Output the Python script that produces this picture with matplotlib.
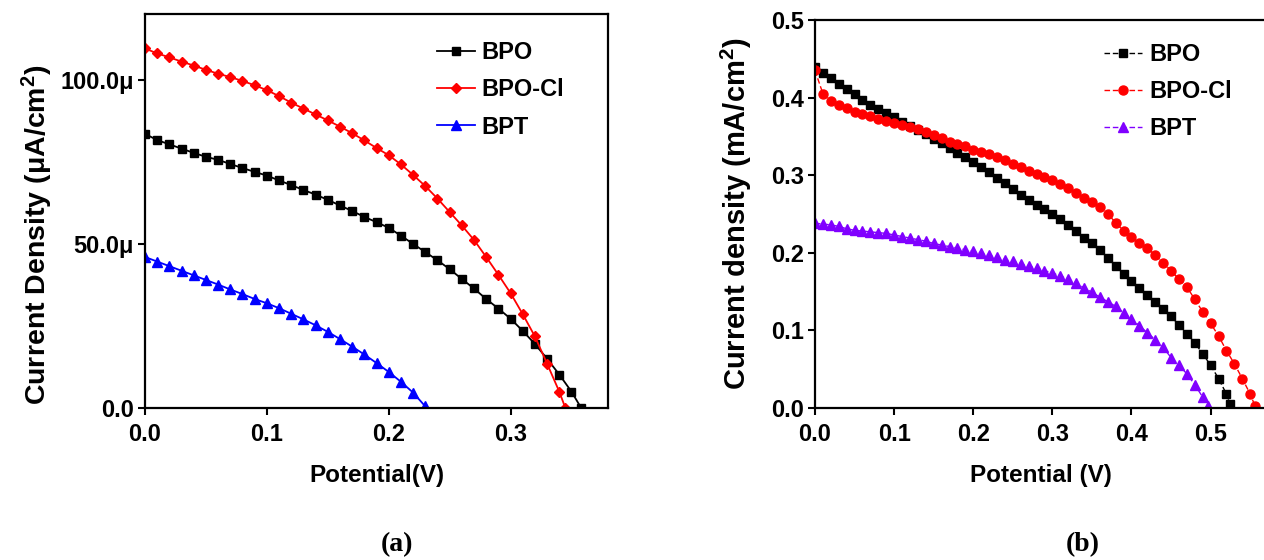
import matplotlib

matplotlib.use("Agg")

import matplotlib.pyplot as plt  # noqa: E402

plt.rcParams["font.family"] = ["Liberation Sans", "DejaVu Sans"]
plt.rcParams["font.weight"] = "bold"
plt.rcParams["mathtext.fontset"] = "custom"
plt.rcParams["mathtext.rm"] = "Liberation Sans:bold"
plt.rcParams["mathtext.bf"] = "Liberation Sans:bold"
plt.rcParams["mathtext.it"] = "Liberation Sans:bold"

# ---- panel (a): current density in uA/cm2 vs potential (V), 0.01 V steps
a_bpo_v = [0.00, 0.01, 0.02, 0.03, 0.04, 0.05, 0.06, 0.07, 0.08, 0.09,
           0.10, 0.11, 0.12, 0.13, 0.14, 0.15, 0.16, 0.17, 0.18, 0.19,
           0.20, 0.21, 0.22, 0.23, 0.24, 0.25, 0.26, 0.27, 0.28, 0.29,
           0.30, 0.31, 0.32, 0.33, 0.34, 0.35, 0.358]
a_bpo_j = [83.5, 81.6, 80.3, 79.0, 77.7, 76.5, 75.6, 74.3, 73.1, 71.9,
           70.8, 69.3, 67.9, 66.4, 65.0, 63.4, 61.7, 60.0, 58.2, 56.6,
           54.9, 52.5, 50.0, 47.5, 45.0, 42.3, 39.3, 36.4, 33.2, 30.3,
           27.2, 23.5, 19.5, 15.0, 10.2, 5.0, 0.0]

a_bpocl_v = [0.00, 0.01, 0.02, 0.03, 0.04, 0.05, 0.06, 0.07, 0.08, 0.09,
             0.10, 0.11, 0.12, 0.13, 0.14, 0.15, 0.16, 0.17, 0.18, 0.19,
             0.20, 0.21, 0.22, 0.23, 0.24, 0.25, 0.26, 0.27, 0.28, 0.29,
             0.30, 0.31, 0.32, 0.33, 0.34, 0.345]
a_bpocl_j = [109.5, 108.0, 106.8, 105.5, 104.3, 103.0, 101.8, 100.8, 99.6, 98.3,
             96.8, 95.0, 93.0, 91.2, 89.4, 87.6, 85.7, 83.7, 81.5, 79.2,
             77.0, 74.2, 71.0, 67.6, 63.8, 59.7, 55.6, 51.2, 46.0, 40.6,
             35.0, 28.6, 21.8, 13.5, 5.0, 0.0]

a_bpt_v = [0.00, 0.01, 0.02, 0.03, 0.04, 0.05, 0.06, 0.07, 0.08, 0.09,
           0.10, 0.11, 0.12, 0.13, 0.14, 0.15, 0.16, 0.17, 0.18, 0.19,
           0.20, 0.21, 0.22, 0.23]
a_bpt_j = [46.0, 44.6, 43.2, 41.8, 40.4, 39.0, 37.6, 36.1, 34.7, 33.2,
           31.9, 30.4, 28.7, 27.0, 25.2, 23.2, 21.0, 18.7, 16.3, 13.7,
           11.0, 8.0, 4.7, 0.5]

a_yticks = [0, 50, 100]
a_yticklabels = ["0.0", "50.0\u03bc", "100.0\u03bc"]
a_xticks = [0.0, 0.1, 0.2, 0.3]

# ---- panel (b): current density in mA/cm2 vs potential (V), 0.01 V steps
b_bpo_v = [0.00, 0.01, 0.02, 0.03, 0.04, 0.05, 0.06, 0.07, 0.08, 0.09,
           0.10, 0.11, 0.12, 0.13, 0.14, 0.15, 0.16, 0.17, 0.18, 0.19,
           0.20, 0.21, 0.22, 0.23, 0.24, 0.25, 0.26, 0.27, 0.28, 0.29,
           0.30, 0.31, 0.32, 0.33, 0.34, 0.35, 0.36, 0.37, 0.38, 0.39,
           0.40, 0.41, 0.42, 0.43, 0.44, 0.45, 0.46, 0.47, 0.48, 0.49,
           0.50, 0.51, 0.52, 0.525]
b_bpo_j = [0.440, 0.432, 0.425, 0.418, 0.411, 0.404, 0.397, 0.390, 0.385, 0.380,
           0.375, 0.369, 0.364, 0.358, 0.353, 0.347, 0.341, 0.335, 0.329, 0.323,
           0.317, 0.310, 0.304, 0.297, 0.290, 0.282, 0.275, 0.268, 0.262, 0.256,
           0.250, 0.243, 0.236, 0.228, 0.219, 0.212, 0.204, 0.193, 0.183, 0.173,
           0.164, 0.155, 0.146, 0.137, 0.128, 0.118, 0.107, 0.096, 0.084, 0.070,
           0.055, 0.038, 0.018, 0.005]

b_bpocl_v = [0.00, 0.01, 0.02, 0.03, 0.04, 0.05, 0.06, 0.07, 0.08, 0.09,
             0.10, 0.11, 0.12, 0.13, 0.14, 0.15, 0.16, 0.17, 0.18, 0.19,
             0.20, 0.21, 0.22, 0.23, 0.24, 0.25, 0.26, 0.27, 0.28, 0.29,
             0.30, 0.31, 0.32, 0.33, 0.34, 0.35, 0.36, 0.37, 0.38, 0.39,
             0.40, 0.41, 0.42, 0.43, 0.44, 0.45, 0.46, 0.47, 0.48, 0.49,
             0.50, 0.51, 0.52, 0.53, 0.54, 0.55, 0.556]
b_bpocl_j = [0.435, 0.405, 0.396, 0.390, 0.386, 0.382, 0.379, 0.376, 0.373, 0.370,
             0.367, 0.365, 0.362, 0.360, 0.356, 0.352, 0.348, 0.343, 0.340, 0.337,
             0.333, 0.330, 0.327, 0.323, 0.319, 0.315, 0.311, 0.306, 0.302, 0.298,
             0.294, 0.289, 0.284, 0.277, 0.271, 0.265, 0.259, 0.250, 0.239, 0.228,
             0.220, 0.212, 0.206, 0.197, 0.187, 0.177, 0.166, 0.156, 0.140, 0.124,
             0.109, 0.093, 0.074, 0.057, 0.038, 0.018, 0.003]

b_bpt_v = [0.00, 0.01, 0.02, 0.03, 0.04, 0.05, 0.06, 0.07, 0.08, 0.09,
           0.10, 0.11, 0.12, 0.13, 0.14, 0.15, 0.16, 0.17, 0.18, 0.19,
           0.20, 0.21, 0.22, 0.23, 0.24, 0.25, 0.26, 0.27, 0.28, 0.29,
           0.30, 0.31, 0.32, 0.33, 0.34, 0.35, 0.36, 0.37, 0.38, 0.39,
           0.40, 0.41, 0.42, 0.43, 0.44, 0.45, 0.46, 0.47, 0.48, 0.49,
           0.497]
b_bpt_j = [0.238, 0.237, 0.236, 0.234, 0.231, 0.229, 0.228, 0.227, 0.226, 0.225,
           0.223, 0.221, 0.219, 0.217, 0.215, 0.212, 0.210, 0.208, 0.206, 0.204,
           0.202, 0.200, 0.197, 0.194, 0.191, 0.189, 0.186, 0.183, 0.180, 0.177,
           0.174, 0.170, 0.166, 0.161, 0.155, 0.149, 0.143, 0.137, 0.131, 0.123,
           0.115, 0.106, 0.097, 0.088, 0.078, 0.065, 0.055, 0.044, 0.030, 0.014,
           0.002]

b_yticks = [0.0, 0.1, 0.2, 0.3, 0.4, 0.5]
b_xticks = [0.0, 0.1, 0.2, 0.3, 0.4, 0.5]

series_labels = ["BPO", "BPO-Cl", "BPT"]

W, H = 1264, 560
fig = plt.figure(figsize=(W / 100, H / 100), dpi=100)
fig.set_facecolor("white")


def px_rect(x0, y0, x1, y1):
    return [x0 / W, 1 - y1 / H, (x1 - x0) / W, (y1 - y0) / H]


def style_axes(ax):
    for spine in ax.spines.values():
        spine.set_linewidth(1.6)
        spine.set_color("black")
    ax.tick_params(direction="out", length=5, width=1.5, labelsize=17,
                   colors="black")
    ax.tick_params(axis="x", pad=6)
    ax.tick_params(axis="y", pad=3)
    for lbl in ax.get_xticklabels() + ax.get_yticklabels():
        lbl.set_fontweight("bold")


legend_kw = dict(loc="upper left", frameon=False, fontsize=17,
                 handlelength=1.6, handletextpad=0.3, labelspacing=0.6,
                 borderaxespad=0)

# ---- (a)
ax1 = fig.add_axes(px_rect(145, 14, 608, 408))
ax1.plot(a_bpo_v, a_bpo_j, color="black", marker="s", ms=5.5, lw=1.3,
         label=series_labels[0])
ax1.plot(a_bpocl_v, a_bpocl_j, color="#ff0000", marker="D", ms=5, lw=1.3,
         label=series_labels[1])
ax1.plot(a_bpt_v, a_bpt_j, color="#0000ff", marker="^", ms=7, lw=1.3,
         label=series_labels[2])
ax1.set_xlim(0, 0.38)
ax1.set_ylim(0, 120)
ax1.set_xticks(a_xticks)
ax1.set_xticklabels([f"{v:.1f}" for v in a_xticks])
ax1.set_yticks(a_yticks)
ax1.set_yticklabels(a_yticklabels)
style_axes(ax1)
ax1.set_xlabel("Potential(V)", fontsize=17.5, fontweight="bold", labelpad=12.5)
ax1.set_ylabel("Current Density (\u03bcA/cm$^2$)", fontsize=20.5,
               fontweight="bold")
# label sits a bit below the axes centre in the original
ax1.yaxis.set_label_coords(-0.195, 0.44)
ax1.legend(bbox_to_anchor=(0.61, 0.955), **legend_kw)

# ---- (b)
ax2 = fig.add_axes(px_rect(815, 20, 1266, 408))
ax2.plot(b_bpo_v, b_bpo_j, color="black", marker="s", ms=6, lw=1.0,
         ls=(0, (4, 2)), label=series_labels[0])
ax2.plot(b_bpocl_v, b_bpocl_j, color="#ff0000", marker="o", ms=6.5, lw=1.0,
         ls=(0, (4, 2)), label=series_labels[1])
ax2.plot(b_bpt_v, b_bpt_j, color="#8000ff", marker="^", ms=7.5, lw=1.0,
         ls=(0, (4, 2)), label=series_labels[2])
ax2.set_xlim(0, 0.57)
ax2.set_ylim(0, 0.5)
ax2.set_xticks(b_xticks)
ax2.set_xticklabels([f"{v:.1f}" for v in b_xticks])
ax2.set_yticks(b_yticks)
ax2.set_yticklabels([f"{v:.1f}" for v in b_yticks])
style_axes(ax2)
ax2.spines["right"].set_visible(False)
ax2.set_xlabel("Potential (V)", fontsize=17.5, fontweight="bold", labelpad=12.5)
ax2.set_ylabel("Current density (mA/cm$^2$)", fontsize=21,
               fontweight="bold", labelpad=12)
ax2.legend(bbox_to_anchor=(0.62, 0.965), **legend_kw)

fig.text(397 / W, 1 - 545 / H, "(a)", fontsize=20, fontweight="bold",
         family=["Liberation Serif", "DejaVu Serif"], ha="center", va="center")
fig.text(1083 / W, 1 - 545 / H, "(b)", fontsize=20, fontweight="bold",
         family=["Liberation Serif", "DejaVu Serif"], ha="center", va="center")

fig.savefig("out.png", dpi=100, facecolor=fig.get_facecolor())
plt.close("all")
